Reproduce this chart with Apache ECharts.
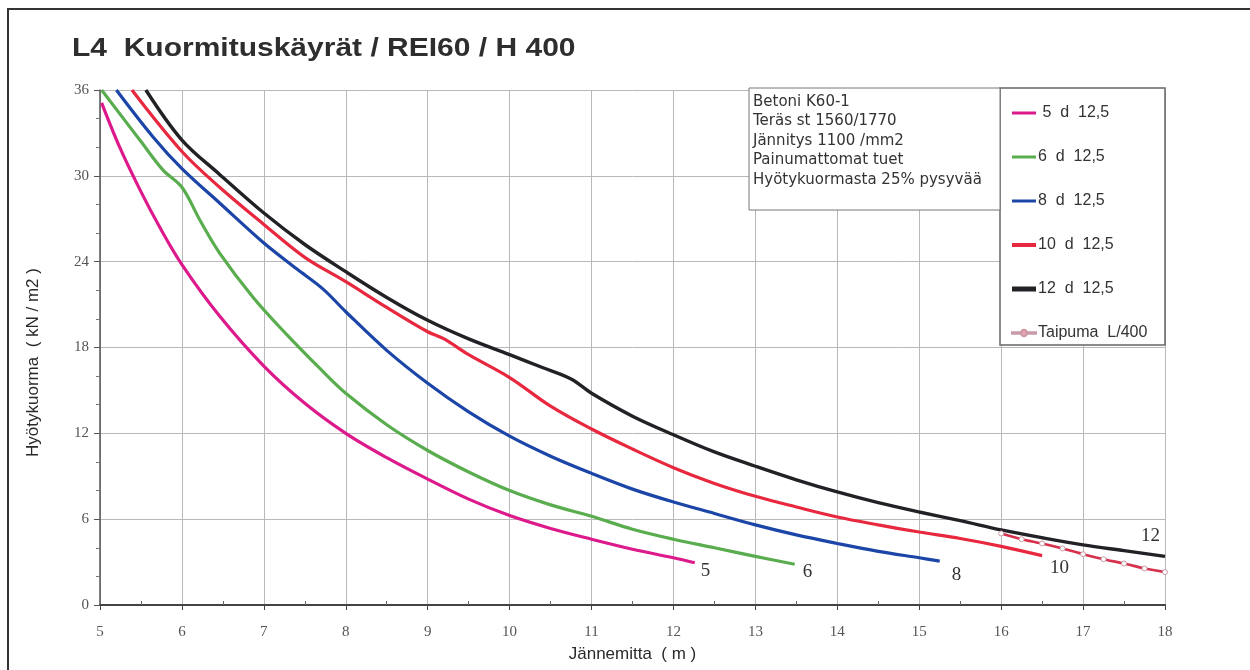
<!DOCTYPE html>
<html>
<head>
<meta charset="utf-8">
<script src="https://cdn.jsdelivr.net/npm/echarts@6/dist/echarts.min.js"></script>
<style>html,body{margin:0;padding:0;background:#fff}#c{width:1250px;height:670px}</style>
</head>
<body>
<div id="c"></div>
<script>
// ---- data ----
const titleText = 'L4  Kuormituskäyrät / REI60 / H 400';
const xAxisTitle = 'Jännemitta  ( m )';
const yAxisTitle = 'Hyötykuorma  ( kN / m2 )';
const seriesNames = [' 5  d  12,5', '6  d  12,5', '8  d  12,5', '10  d  12,5', '12  d  12,5', 'Taipuma  L/400'];
const curveTags = ['5', '6', '8', '10', '12'];
const infoLines = ['Betoni K60-1', 'Teräs st 1560/1770', 'Jännitys 1100 /mm2', 'Painumattomat tuet', 'Hyötykuormasta 25% pysyvää'];

const s5 = [[5.02,35.1],[5.24,32.0],[5.49,29.0],[5.73,26.4],[6,23.8],[6.46,20.2],[7,16.7],[7.5,14.1],[8,12.0],[8.5,10.3],[9,8.8],[9.5,7.4],[10,6.25],[10.5,5.35],[11,4.6],[11.5,3.9],[12,3.3],[12.26,2.95]];
const s6 = [[5.02,36],[5.5,32.4],[5.77,30.4],[6,29.2],[6.22,26.9],[6.46,24.6],[6.87,21.5],[7.28,18.9],[7.69,16.5],[8,14.8],[8.5,12.6],[9,10.8],[9.5,9.3],[10,8.0],[10.5,7.0],[11,6.2],[11.5,5.3],[12,4.6],[12.5,4.0],[13,3.4],[13.48,2.85]];
const s8 = [[5.2,36],[5.65,32.7],[6,30.5],[6.46,28.1],[7,25.3],[7.4,23.5],[7.72,22.1],[8,20.5],[8.5,17.8],[9,15.5],[9.5,13.5],[10,11.8],[10.5,10.4],[11,9.2],[11.5,8.1],[12,7.2],[12.5,6.4],[13,5.6],[13.5,4.9],[14,4.3],[14.5,3.75],[15,3.3],[15.25,3.07]];
const s10 = [[5.39,36],[6,31.7],[6.46,29.2],[7,26.6],[7.5,24.3],[8,22.6],[8.5,20.8],[9,19.1],[9.2,18.6],[9.5,17.5],[10,15.9],[10.5,13.9],[11,12.3],[11.5,10.9],[12,9.6],[12.5,8.5],[13,7.6],[13.5,6.85],[14,6.15],[14.5,5.6],[15,5.1],[15.5,4.65],[16,4.1],[16.5,3.45]];
const s12 = [[5.56,36],[6,32.5],[6.46,30.1],[7,27.4],[7.5,25.2],[8,23.3],[8.5,21.5],[9,19.9],[9.5,18.6],[10,17.5],[10.4,16.6],[10.75,15.8],[11,14.8],[11.5,13.2],[12,11.9],[12.5,10.7],[13,9.7],[13.5,8.75],[14,7.9],[14.5,7.15],[15,6.5],[15.5,5.9],[16,5.25],[16.5,4.7],[17,4.2],[17.5,3.8],[18,3.4]];
const taipuma = [[16,5.0],[16.25,4.6],[16.5,4.3],[16.75,3.95],[17,3.55],[17.25,3.2],[17.5,2.9],[17.75,2.55],[18,2.3]];

const xMin = 5, xMax = 18, xStep = 1;
const yMin = 0, yMax = 36, yStep = 6;

// ---- styling ----
const colors = ['#dd1a8c', '#5aad4e', '#1c45a8', '#e8283e', '#222226', '#d6304c'];
const widths = [3.2, 3.2, 3.2, 3.2, 3.4];
const tagOffsets = [[6, 8], [8, 8], [12, 14], [8, 12], [-24, -20]];
const legendIcons = [
  'path://M0,0h24v3h-24z', 'path://M0,0h24v3h-24z', 'path://M0,0h24v3h-24z',
  'path://M0,0h24v4h-24z', 'path://M0,0h24v5h-24z'
];
const curves = [s5, s6, s8, s10, s12];

const series = curves.map((d, i) => ({
  name: seriesNames[i],
  type: 'line',
  data: d,
  smooth: 0.35,
  symbol: 'none',
  lineStyle: { color: colors[i], width: widths[i] },
  itemStyle: { color: colors[i] },
  z: 3 + i,
  endLabel: {
    show: true,
    formatter: curveTags[i],
    color: '#333',
    fontFamily: 'Liberation Serif',
    fontSize: 19,
    offset: tagOffsets[i],
    align: 'left',
    verticalAlign: 'middle',
    distance: 0
  }
}));
series.push({
  name: seriesNames[5],
  type: 'line',
  data: taipuma,
  smooth: 0.2,
  symbol: 'circle',
  symbolSize: 5,
  showSymbol: true,
  lineStyle: { color: colors[5], width: 2.6 },
  itemStyle: { color: '#fff', borderColor: '#c89aa6', borderWidth: 1 },
  z: 9
});

const legendData = seriesNames.map((n, i) => i < 5
  ? { name: n, icon: legendIcons[i], itemStyle: { color: colors[i] } }
  : { name: n, icon: 'path://M0,5h9v1.6h-9z M15,5h9v1.6h-9z M12,2.6a3.2,3.2 0 1,0 0.01,0z', itemStyle: { color: '#e8a0b0' } });

const chart = echarts.init(document.getElementById('c'), null, { renderer: 'canvas' });
chart.setOption({
  animation: false,
  backgroundColor: '#fff',
  grid: { left: 100, right: 85, top: 90, bottom: 65, containLabel: false },
  xAxis: {
    type: 'value', min: xMin, max: xMax, interval: xStep,
    name: xAxisTitle, nameLocation: 'middle', nameGap: 41,
    nameTextStyle: { fontFamily: 'Liberation Sans', fontSize: 17, color: '#2a2a2a' },
    axisLine: { show: true, onZero: false, lineStyle: { color: '#444', width: 2 } },
    axisTick: { show: true, length: 5, lineStyle: { color: '#444' } },
    minorTick: { show: true, splitNumber: 2, length: -4, lineStyle: { color: '#666' } },
    axisLabel: { fontFamily: 'Liberation Serif', fontSize: 15, color: '#555', margin: 20 },
    splitLine: { show: true, lineStyle: { color: '#b8b8b8', width: 1 } }
  },
  yAxis: {
    type: 'value', min: yMin, max: yMax, interval: yStep,
    name: yAxisTitle, nameLocation: 'middle', nameGap: 58,
    nameTextStyle: { fontFamily: 'Liberation Sans', fontSize: 17, color: '#2a2a2a', padding: [0, 30, 0, 0] },
    axisLine: { show: true, lineStyle: { color: '#555', width: 1.5 } },
    axisTick: { show: true, length: 6, lineStyle: { color: '#555' } },
    minorTick: { show: true, splitNumber: 3, length: 4, lineStyle: { color: '#777' } },
    axisLabel: { fontFamily: 'Liberation Serif', fontSize: 15, color: '#555', margin: 11 },
    splitLine: { show: true, lineStyle: { color: '#b8b8b8', width: 1 } }
  },
  legend: {
    orient: 'vertical',
    left: 1006, top: 100,
    itemWidth: 24, itemHeight: 12,
    itemGap: 28,
    data: legendData,
    textStyle: { fontFamily: 'Liberation Sans', fontSize: 16, color: '#333', padding: [0, 0, 0, -3] },
    selectedMode: false
  },
  graphic: [
    { type: 'rect', shape: { x: 8, y: 9, width: 1300, height: 700 }, style: { fill: 'none', stroke: '#333', lineWidth: 2 }, z: 100, silent: true },
    { type: 'rect', shape: { x: 1000, y: 88, width: 165, height: 257 }, style: { fill: '#fff', stroke: '#666', lineWidth: 1.5 }, z: 1, silent: true },
    { type: 'rect', shape: { x: 749, y: 88, width: 251, height: 122 }, style: { fill: '#fff', stroke: '#777', lineWidth: 1 }, z: 1, silent: true },
    { type: 'text', x: 753, y: 92, z: 2, style: { text: infoLines.join('\n'), fontFamily: 'DejaVu Sans', fontSize: 15, lineHeight: 19.5, fill: '#333' } },
    { type: 'text', x: 72, y: 37, scaleX: 1.2, z: 2, style: { text: titleText, fontFamily: 'Liberation Sans', fontWeight: 'bold', fontSize: 25, fill: '#2e2e2e' } }
  ],
  series: series
});
</script>
</body>
</html>
